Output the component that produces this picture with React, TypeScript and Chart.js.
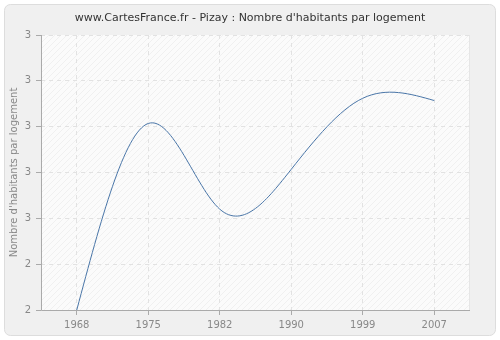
import React, { useEffect, useRef } from "react";
import { Chart, registerables } from "chart.js";

Chart.register(...registerables);

const years = ["1968", "1975", "1982", "1990", "1999", "2007"];
const values = [2.3, 2.707, 2.52, 2.607, 2.762, 2.757];
const yMin = 2.3;
const yMax = 2.9;
const yStep = 0.1;
const titleText = "www.CartesFrance.fr - Pizay : Nombre d'habitants par logement";
const yTitle = "Nombre d'habitants par logement";

const FONT = "DejaVu Sans, Verdana, sans-serif";

function makePattern(ctx: CanvasRenderingContext2D) {
  const c = document.createElement("canvas");
  c.width = 6;
  c.height = 6;
  const p = c.getContext("2d")!;
  p.fillStyle = "#fbfbfb";
  p.fillRect(0, 0, 6, 6);
  p.strokeStyle = "#f0f0f0";
  p.lineWidth = 1;
  p.beginPath();
  p.moveTo(0, 6);
  p.lineTo(6, 0);
  p.moveTo(-3, 3);
  p.lineTo(3, -3);
  p.moveTo(3, 9);
  p.lineTo(9, 3);
  p.stroke();
  return ctx.createPattern(c, "repeat");
}

// Natural cubic spline control points applied to the line element's points
const naturalSpline = {
  id: "naturalSpline",
  beforeDatasetDraw(chart: any, args: any) {
    const meta = args.meta;
    const line = meta.dataset;
    if (!line) return;
    line.updateControlPoints(chart.chartArea, "x");
    const pts = meta.data;
    const n = pts.length;
    if (n < 3) return;
    const xs = pts.map((p: any) => p.x);
    const ys = pts.map((p: any) => p.y);
    const h: number[] = [];
    for (let i = 0; i < n - 1; i++) h.push(xs[i + 1] - xs[i]);
    // solve tridiagonal for second derivatives M
    const a: number[] = new Array(n).fill(0);
    const b: number[] = new Array(n).fill(1);
    const c: number[] = new Array(n).fill(0);
    const d: number[] = new Array(n).fill(0);
    for (let i = 1; i < n - 1; i++) {
      a[i] = h[i - 1];
      b[i] = 2 * (h[i - 1] + h[i]);
      c[i] = h[i];
      d[i] = 6 * ((ys[i + 1] - ys[i]) / h[i] - (ys[i] - ys[i - 1]) / h[i - 1]);
    }
    for (let i = 1; i < n; i++) {
      const m = a[i] / b[i - 1];
      b[i] -= m * c[i - 1];
      d[i] -= m * d[i - 1];
    }
    const M: number[] = new Array(n).fill(0);
    M[n - 1] = d[n - 1] / b[n - 1];
    for (let i = n - 2; i >= 0; i--) M[i] = (d[i] - c[i] * M[i + 1]) / b[i];
    for (let i = 0; i < n - 1; i++) {
      const hi = h[i];
      const s = (ys[i + 1] - ys[i]) / hi;
      const d0 = s - (hi * (2 * M[i] + M[i + 1])) / 6;
      const d1 = s + (hi * (M[i] + 2 * M[i + 1])) / 6;
      pts[i].cp2x = xs[i] + hi / 3;
      pts[i].cp2y = ys[i] + (d0 * hi) / 3;
      pts[i + 1].cp1x = xs[i + 1] - hi / 3;
      pts[i + 1].cp1y = ys[i + 1] - (d1 * hi) / 3;
    }
    pts[0].cp1x = xs[0];
    pts[0].cp1y = ys[0];
    pts[n - 1].cp2x = xs[n - 1];
    pts[n - 1].cp2y = ys[n - 1];
    line._path = undefined;
  },
};

const decor = {
  id: "decor",
  beforeDraw(chart: any) {
    const { ctx, chartArea: a, width, height } = chart;
    ctx.save();
    ctx.fillStyle = "#ffffff";
    ctx.fillRect(0, 0, width, height);
    ctx.beginPath();
    (ctx as any).roundRect(4.5, 4.5, width - 9, height - 9, 6);
    ctx.fillStyle = "#f0f0f0";
    ctx.fill();
    ctx.strokeStyle = "#dddddd";
    ctx.lineWidth = 1;
    ctx.stroke();
    const pat = makePattern(ctx);
    if (pat) ctx.fillStyle = pat;
    ctx.fillRect(a.left, a.top, a.right - a.left, a.bottom - a.top);
    ctx.restore();
  },
  beforeDatasetsDraw(chart: any) {
    const { ctx, chartArea: a } = chart;
    ctx.save();
    ctx.strokeStyle = "#aaaaaa";
    ctx.lineWidth = 1;
    ctx.beginPath();
    ctx.moveTo(a.left + 0.5, a.top);
    ctx.lineTo(a.left + 0.5, a.bottom + 0.5);
    ctx.lineTo(a.right, a.bottom + 0.5);
    ctx.stroke();
    ctx.strokeStyle = "#e6e6e6";
    ctx.beginPath();
    ctx.moveTo(a.right - 0.5, a.top);
    ctx.lineTo(a.right - 0.5, a.bottom);
    ctx.stroke();
    ctx.restore();
  },
  afterDraw(chart: any) {
    const { ctx, chartArea: a } = chart;
    ctx.save();
    ctx.fillStyle = "#333333";
    ctx.font = `11px ${FONT}`;
    ctx.textAlign = "center";
    ctx.textBaseline = "middle";
    ctx.fillText(titleText, 250, 18);
    ctx.translate(14, (a.top + a.bottom) / 2);
    ctx.rotate(-Math.PI / 2);
    ctx.fillStyle = "#888888";
    ctx.font = `10px ${FONT}`;
    ctx.fillText(yTitle, 0, 0);
    ctx.restore();
  },
};

export default function App() {
  const ref = useRef<HTMLCanvasElement>(null);
  useEffect(() => {
    document.body.style.margin = "0";
    const chart = new Chart(ref.current!, {
      type: "line",
      data: {
        labels: years,
        datasets: [
          {
            data: values,
            borderColor: "#4a76a8",
            borderWidth: 1,
            pointRadius: 0,
            tension: 0.4,
            fill: false,
            clip: false as any,
          },
        ],
      },
      plugins: [decor, naturalSpline],
      options: {
        animation: false,
        responsive: false,
        devicePixelRatio: 1,
        layout: { padding: { top: 35, right: 30, left: 0, bottom: 0 } },
        plugins: { legend: { display: false }, title: { display: false }, tooltip: { enabled: false } },
        scales: {
          x: {
            type: "category",
            offset: true,
            afterFit: (s: any) => {
              s.height = 30;
            },
            grid: {
              offset: false,
              color: "#e2e2e2",
              tickColor: "#aaaaaa",
              tickLength: 5,
              tickBorderDash: [],
            },
            border: { display: false, dash: [4, 4] },
            ticks: { color: "#888888", font: { family: FONT, size: 10 }, padding: 4, maxRotation: 0 },
          },
          y: {
            min: yMin,
            max: yMax,
            afterFit: (s: any) => {
              s.width = 41;
            },
            afterBuildTicks: (s: any) => {
              const t = [];
              for (let i = 0; i <= Math.round((yMax - yMin) / yStep); i++) t.push({ value: yMin + i * yStep });
              s.ticks = t;
            },
            grid: {
              color: "#e2e2e2",
              tickColor: "#aaaaaa",
              tickLength: 5,
              tickBorderDash: [],
            },
            border: { display: false, dash: [4, 4] },
            ticks: {
              color: "#888888",
              font: { family: FONT, size: 10 },
              padding: 5,
              callback: (v: any) => String(Math.round(Number(v))),
            },
          },
        },
      } as any,
    });
    return () => chart.destroy();
  }, []);
  return (
    <div style={{ position: "fixed", left: 0, top: 0, width: 500, height: 340 }}>
      <canvas ref={ref} width={500} height={340} style={{ width: 500, height: 340 }} />
    </div>
  );
}
